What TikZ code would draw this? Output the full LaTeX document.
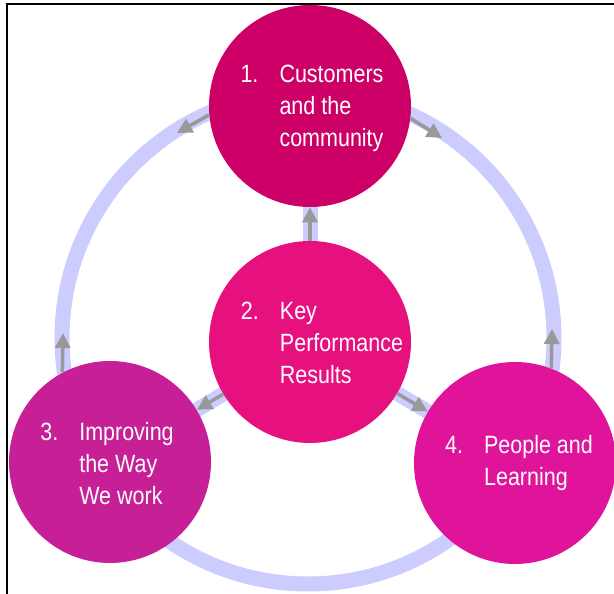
\documentclass[tikz,border=0pt]{standalone}
\usepackage{fontspec}
\setmainfont[FakeStretch=0.86]{Liberation Sans}
\usetikzlibrary{arrows.meta}

\definecolor{ring}{HTML}{CCCCFF}
\definecolor{arrowgray}{HTML}{999999}
\definecolor{cust}{HTML}{CC0066}
\definecolor{kpr}{HTML}{E6107F}
\definecolor{impr}{HTML}{C71F96}
\definecolor{people}{HTML}{E0149B}

\newcommand{\numlbl}[1]{\makebox[39pt][l]{#1}}
\newcommand{\hang}{\hspace*{39pt}}

\begin{document}
\begin{tikzpicture}[x=1pt, y=1pt, >=latex, thick]
    \tikzstyle{disc} = [circle, minimum size=202pt, inner sep=0pt]
    \tikzstyle{txt} = [text=white, align=left, font=\fontsize{25}{32}\selectfont]
    \tikzstyle{band} = [draw=ring, line width=15pt]
    \tikzstyle{flow} = [draw=arrowgray, line width=3.5pt, -{Triangle[length=15pt, width=15pt]}]

    \useasboundingbox (0,0) rectangle (614,594);

    % frame edges
    \draw [line width=2pt] (7,0) -- (7,590) -- (614,590);

    \coordinate (c-top) at (310,488);
    \coordinate (c-mid) at (310,252);
    \coordinate (c-bl) at (110,132);
    \coordinate (c-br) at (515,131);

    % ring and spokes behind the discs
    \draw [band] (308,256) circle (246);
    \draw [band] (c-mid) -- (c-top);
    \draw [band] (c-mid) -- (c-bl);
    \draw [band] (c-mid) -- (c-br);

    \node [disc, fill=cust] (top) at (c-top) {};
    \node [disc, fill=kpr] (mid) at (c-mid) {};
    \node [disc, fill=impr] (bl) at (c-bl) {};
    \node [disc, fill=people] (br) at (c-br) {};

    \node [txt, xshift=2pt, yshift=-2pt] (top-txt) at (c-top)
        {\numlbl{1.}Customers\\\hang and the\\\hang community};
    \node [txt, xshift=12pt, yshift=-1pt] (mid-txt) at (c-mid)
        {\numlbl{2.}Key\\\hang Performance\\\hang Results};
    \node [txt, xshift=-3pt, yshift=-2pt] (bl-txt) at (c-bl)
        {\numlbl{3.}Improving\\\hang the Way\\\hang We work};
    \node [txt, xshift=4pt] (br-txt) at (c-br)
        {\numlbl{4.}People and\\\hang Learning};

    % arrow tips on the ring
    \coordinate (tip-tl) at (177,461);
    \coordinate (tip-tr) at (442,456);
    \coordinate (tip-l) at (63,261);
    \coordinate (tip-r) at (552,265);

    \draw [flow] (top.185) -- (tip-tl);
    \draw [flow] (top.-7) -- (tip-tr);
    \draw [flow] (bl.118) -- (tip-l);
    \draw [flow] (br.69) -- (tip-r);
    \draw [flow] (mid.north) -- (top.south);
    \draw [flow] (mid) -- (bl);
    \draw [flow] (mid) -- (br);
\end{tikzpicture}
\end{document}
